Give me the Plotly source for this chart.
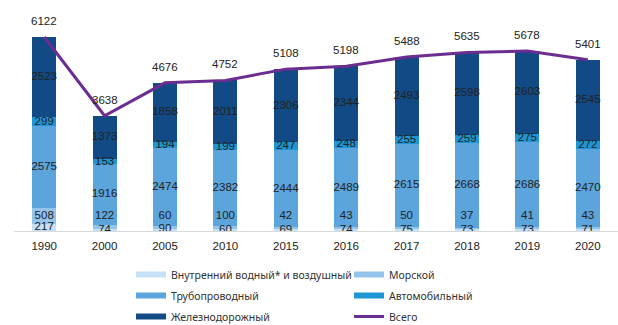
import plotly.graph_objects as go

years = ["1990", "2000", "2005", "2010", "2015", "2016", "2017", "2018", "2019", "2020"]
inland = [217, 74, 90, 60, 69, 74, 75, 73, 73, 71]          # Внутренний водный* и воздушный
sea = [508, 122, 60, 100, 42, 43, 50, 37, 41, 43]            # Морской
pipeline = [2575, 1916, 2474, 2382, 2444, 2489, 2615, 2668, 2686, 2470]
road = [299, 153, 194, 199, 247, 248, 255, 259, 275, 272]
rail = [2523, 1373, 1858, 2011, 2306, 2344, 2493, 2598, 2603, 2545]
total = [6122, 3638, 4676, 4752, 5108, 5198, 5488, 5635, 5678, 5401]

series = [
    ("Внутренний водный* и воздушный", inland, "#c6e1f5", "legend"),
    ("Морской", sea, "#93c4ea", "legend2"),
    ("Трубопроводный", pipeline, "#5ba4dc", "legend"),
    ("Автомобильный", road, "#1e95d4", "legend2"),
    ("Железнодорожный", rail, "#124a85", "legend"),
]

W, H = 618, 325
M_L, M_R, M_T, M_B = 14, 0, 10, 94
Y_MAX = 6974
SEA_LABEL_FLOOR = 480  # keeps small sea labels clear of the inland labels

fig = go.Figure()
num_font = dict(family="Liberation Sans, Arial", size=11.5, color="#222222")

base = [0] * len(years)
for i, (name, vals, color, leg) in enumerate(series):
    fig.add_trace(go.Bar(
        x=years, y=vals, marker=dict(color=color, line=dict(width=0)),
        showlegend=False, hoverinfo="skip", name=name,
    ))
    mids = [b + v / 2 for b, v in zip(base, vals)]
    if i == 1:
        mids = [max(m, SEA_LABEL_FLOOR) for m in mids]
    fig.add_trace(go.Scatter(
        x=years, y=mids, mode="text", text=[str(v) for v in vals],
        textposition="middle center", textfont=num_font,
        showlegend=False, hoverinfo="skip",
    ))
    base = [b + v for b, v in zip(base, vals)]

fig.add_trace(go.Scatter(
    x=years, y=total, mode="lines", line=dict(color="#6b2d90", width=3),
    showlegend=False, hoverinfo="skip",
))

# total labels above each column (category axis -> position by index)
for idx, t in enumerate(total):
    fig.add_annotation(x=idx, y=t, text=str(t), showarrow=False,
                       yanchor="bottom", yshift=8, font=num_font)

# legend entries as wide swatches (single point, so nothing is drawn in the plot)
for gi, (name, vals, color, leg) in enumerate(series):
    fig.add_trace(go.Scatter(
        x=[years[0]], y=[0], mode="lines", name=name,
        line=dict(color=color, width=6), legend=leg, legendgroup=f"g{gi}",
        hoverinfo="skip",
    ))
fig.add_trace(go.Scatter(
    x=[years[0]], y=[0], mode="lines", name="Всего",
    line=dict(color="#6b2d90", width=3), legend="legend2", legendgroup="gt",
    hoverinfo="skip",
))

plot_w = W - M_L - M_R
plot_h = H - M_T - M_B


def px_to_paper(px_x, px_y):
    return (px_x - M_L) / plot_w, (H - M_B - px_y) / plot_h


legend_font = dict(family="Noto Sans", size=10.5, color="#333333")
legend_common = dict(
    orientation="v", xanchor="left", yanchor="top", font=legend_font,
    bgcolor="rgba(0,0,0,0)", tracegroupgap=2, itemwidth=30, borderwidth=0,
)
lx1, ly = px_to_paper(131, 260)
lx2, _ = px_to_paper(349, 260)

fig.update_layout(
    width=W, height=H,
    margin=dict(l=M_L, r=M_R, t=M_T, b=M_B, autoexpand=False),
    paper_bgcolor="white", plot_bgcolor="white",
    barmode="stack", bargap=0.6,
    showlegend=True,
    legend=dict(x=lx1, y=ly, **legend_common),
    legend2=dict(x=lx2, y=ly, **legend_common),
    xaxis=dict(
        type="category", range=[-0.5, len(years) - 0.5],
        showgrid=False, showline=True, linecolor="#d9d9d9",
        linewidth=1, ticks="", ticklabelstandoff=4,
        tickfont=dict(family="Liberation Sans, Arial", size=11.5, color="#222222"),
    ),
    yaxis=dict(range=[0, Y_MAX], visible=False, showgrid=False),
)

fig.write_html("out.html")
